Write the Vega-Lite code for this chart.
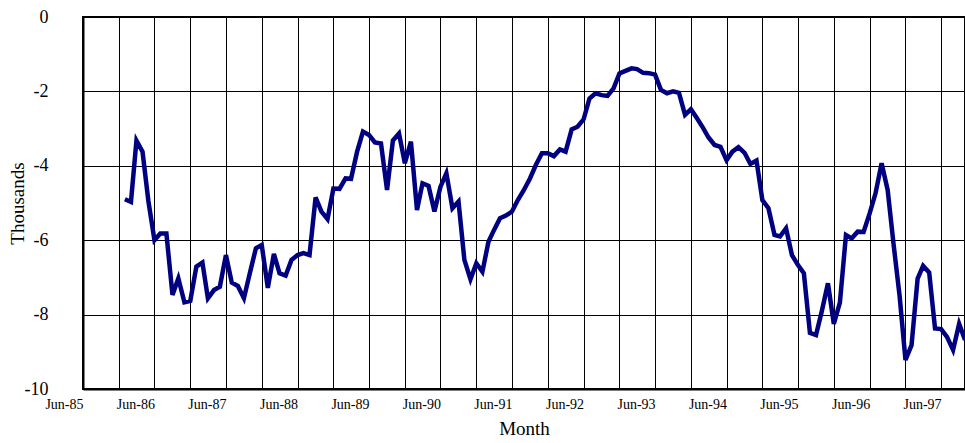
{
  "$schema": "https://vega.github.io/schema/vega-lite/v6.json",
  "autosize": {"type": "none"},
  "padding": {"left": 83, "top": 17, "right": 0, "bottom": 54},
  "width": 882,
  "height": 372,
  "background": "white",
  "config": {
    "view": {"stroke": "black", "strokeWidth": 2},
    "font": "Liberation Serif"
  },
  "data": {
    "values": [
      {"month": "1986/01/01", "value": -4.90}, {"month": "1986/02/01", "value": -4.97}, {"month": "1986/03/01", "value": -3.32}, {"month": "1986/04/01", "value": -3.62}, {"month": "1986/05/01", "value": -4.95}, {"month": "1986/06/01", "value": -6.00},
      {"month": "1986/07/01", "value": -5.82}, {"month": "1986/08/01", "value": -5.82}, {"month": "1986/09/01", "value": -7.47}, {"month": "1986/10/01", "value": -7.03}, {"month": "1986/11/01", "value": -7.67}, {"month": "1986/12/01", "value": -7.63},
      {"month": "1987/01/01", "value": -6.71}, {"month": "1987/02/01", "value": -6.60}, {"month": "1987/03/01", "value": -7.56}, {"month": "1987/04/01", "value": -7.34}, {"month": "1987/05/01", "value": -7.25}, {"month": "1987/06/01", "value": -6.40},
      {"month": "1987/07/01", "value": -7.14}, {"month": "1987/08/01", "value": -7.23}, {"month": "1987/09/01", "value": -7.56}, {"month": "1987/10/01", "value": -6.89}, {"month": "1987/11/01", "value": -6.22}, {"month": "1987/12/01", "value": -6.13},
      {"month": "1988/01/01", "value": -7.28}, {"month": "1988/02/01", "value": -6.37}, {"month": "1988/03/01", "value": -6.89}, {"month": "1988/04/01", "value": -6.95}, {"month": "1988/05/01", "value": -6.53}, {"month": "1988/06/01", "value": -6.40},
      {"month": "1988/07/01", "value": -6.35}, {"month": "1988/08/01", "value": -6.40}, {"month": "1988/09/01", "value": -4.85}, {"month": "1988/10/01", "value": -5.23}, {"month": "1988/11/01", "value": -5.43}, {"month": "1988/12/01", "value": -4.61},
      {"month": "1989/01/01", "value": -4.62}, {"month": "1989/02/01", "value": -4.34}, {"month": "1989/03/01", "value": -4.35}, {"month": "1989/04/01", "value": -3.62}, {"month": "1989/05/01", "value": -3.08}, {"month": "1989/06/01", "value": -3.17},
      {"month": "1989/07/01", "value": -3.37}, {"month": "1989/08/01", "value": -3.40}, {"month": "1989/09/01", "value": -4.65}, {"month": "1989/10/01", "value": -3.32}, {"month": "1989/11/01", "value": -3.13}, {"month": "1989/12/01", "value": -3.93},
      {"month": "1990/01/01", "value": -3.35}, {"month": "1990/02/01", "value": -5.19}, {"month": "1990/03/01", "value": -4.47}, {"month": "1990/04/01", "value": -4.54}, {"month": "1990/05/01", "value": -5.23}, {"month": "1990/06/01", "value": -4.56},
      {"month": "1990/07/01", "value": -4.20}, {"month": "1990/08/01", "value": -5.14}, {"month": "1990/09/01", "value": -4.96}, {"month": "1990/10/01", "value": -6.53}, {"month": "1990/11/01", "value": -7.05}, {"month": "1990/12/01", "value": -6.62},
      {"month": "1991/01/01", "value": -6.85}, {"month": "1991/02/01", "value": -6.04}, {"month": "1991/03/01", "value": -5.73}, {"month": "1991/04/01", "value": -5.41}, {"month": "1991/05/01", "value": -5.34}, {"month": "1991/06/01", "value": -5.23},
      {"month": "1991/07/01", "value": -4.92}, {"month": "1991/08/01", "value": -4.65}, {"month": "1991/09/01", "value": -4.34}, {"month": "1991/10/01", "value": -3.98}, {"month": "1991/11/01", "value": -3.66}, {"month": "1991/12/01", "value": -3.66},
      {"month": "1992/01/01", "value": -3.74}, {"month": "1992/02/01", "value": -3.56}, {"month": "1992/03/01", "value": -3.62}, {"month": "1992/04/01", "value": -3.02}, {"month": "1992/05/01", "value": -2.95}, {"month": "1992/06/01", "value": -2.75},
      {"month": "1992/07/01", "value": -2.19}, {"month": "1992/08/01", "value": -2.05}, {"month": "1992/09/01", "value": -2.10}, {"month": "1992/10/01", "value": -2.12}, {"month": "1992/11/01", "value": -1.92}, {"month": "1992/12/01", "value": -1.52},
      {"month": "1993/01/01", "value": -1.45}, {"month": "1993/02/01", "value": -1.38}, {"month": "1993/03/01", "value": -1.40}, {"month": "1993/04/01", "value": -1.50}, {"month": "1993/05/01", "value": -1.51}, {"month": "1993/06/01", "value": -1.55},
      {"month": "1993/07/01", "value": -1.96}, {"month": "1993/08/01", "value": -2.05}, {"month": "1993/09/01", "value": -2.00}, {"month": "1993/10/01", "value": -2.04}, {"month": "1993/11/01", "value": -2.63}, {"month": "1993/12/01", "value": -2.48},
      {"month": "1994/01/01", "value": -2.72}, {"month": "1994/02/01", "value": -2.98}, {"month": "1994/03/01", "value": -3.24}, {"month": "1994/04/01", "value": -3.44}, {"month": "1994/05/01", "value": -3.49}, {"month": "1994/06/01", "value": -3.85},
      {"month": "1994/07/01", "value": -3.62}, {"month": "1994/08/01", "value": -3.50}, {"month": "1994/09/01", "value": -3.65}, {"month": "1994/10/01", "value": -3.95}, {"month": "1994/11/01", "value": -3.86}, {"month": "1994/12/01", "value": -4.92},
      {"month": "1995/01/01", "value": -5.14}, {"month": "1995/02/01", "value": -5.86}, {"month": "1995/03/01", "value": -5.90}, {"month": "1995/04/01", "value": -5.68}, {"month": "1995/05/01", "value": -6.40}, {"month": "1995/06/01", "value": -6.67},
      {"month": "1995/07/01", "value": -6.89}, {"month": "1995/08/01", "value": -8.49}, {"month": "1995/09/01", "value": -8.55}, {"month": "1995/10/01", "value": -7.90}, {"month": "1995/11/01", "value": -7.16}, {"month": "1995/12/01", "value": -8.25},
      {"month": "1996/01/01", "value": -7.68}, {"month": "1996/02/01", "value": -5.86}, {"month": "1996/03/01", "value": -5.95}, {"month": "1996/04/01", "value": -5.77}, {"month": "1996/05/01", "value": -5.78}, {"month": "1996/06/01", "value": -5.28},
      {"month": "1996/07/01", "value": -4.74}, {"month": "1996/08/01", "value": -3.93}, {"month": "1996/09/01", "value": -4.65}, {"month": "1996/10/01", "value": -6.10}, {"month": "1996/11/01", "value": -7.50}, {"month": "1996/12/01", "value": -9.22},
      {"month": "1997/01/01", "value": -8.82}, {"month": "1997/02/01", "value": -7.03}, {"month": "1997/03/01", "value": -6.69}, {"month": "1997/04/01", "value": -6.87}, {"month": "1997/05/01", "value": -8.37}, {"month": "1997/06/01", "value": -8.39},
      {"month": "1997/07/01", "value": -8.60}, {"month": "1997/08/01", "value": -8.95}, {"month": "1997/09/01", "value": -8.25}, {"month": "1997/10/01", "value": -8.68}
    ]
  },
  "mark": {"type": "line", "color": "#000080", "strokeWidth": 4.5, "strokeJoin": "miter"},
  "encoding": {
    "x": {
      "field": "month",
      "type": "temporal",
      "scale": {"domain": [{"year": 1985, "month": 6, "date": 1}, {"year": 1997, "month": 10, "date": 1}]},
      "axis": {
        "title": "Month",
        "titleFont": "Liberation Serif",
        "titleFontSize": 19,
        "titleFontWeight": "normal",
        "titleColor": "black",
        "titlePadding": 8,
        "values": [
          {"year": 1985, "month": 6, "date": 1}, {"year": 1985, "month": 12, "date": 1},
          {"year": 1986, "month": 6, "date": 1}, {"year": 1986, "month": 12, "date": 1},
          {"year": 1987, "month": 6, "date": 1}, {"year": 1987, "month": 12, "date": 1},
          {"year": 1988, "month": 6, "date": 1}, {"year": 1988, "month": 12, "date": 1},
          {"year": 1989, "month": 6, "date": 1}, {"year": 1989, "month": 12, "date": 1},
          {"year": 1990, "month": 6, "date": 1}, {"year": 1990, "month": 12, "date": 1},
          {"year": 1991, "month": 6, "date": 1}, {"year": 1991, "month": 12, "date": 1},
          {"year": 1992, "month": 6, "date": 1}, {"year": 1992, "month": 12, "date": 1},
          {"year": 1993, "month": 6, "date": 1}, {"year": 1993, "month": 12, "date": 1},
          {"year": 1994, "month": 6, "date": 1}, {"year": 1994, "month": 12, "date": 1},
          {"year": 1995, "month": 6, "date": 1}, {"year": 1995, "month": 12, "date": 1},
          {"year": 1996, "month": 6, "date": 1}, {"year": 1996, "month": 12, "date": 1},
          {"year": 1997, "month": 6, "date": 1}
        ],
        "labelExpr": "month(datum.value) == 5 ? timeFormat(datum.value, '%b-%y') : ''",
        "labelFont": "Liberation Serif",
        "labelFontSize": 14,
        "labelColor": "black",
        "labelAlign": "right",
        "labelBaseline": "top",
        "labelDx": -9,
        "labelPadding": 8,
        "labelFlush": false,
        "labelOverlap": false,
        "labelBound": false,
        "ticks": false,
        "grid": true,
        "gridColor": "black",
        "gridWidth": 1,
        "gridOpacity": 1,
        "domainColor": "black",
        "domainWidth": 2
      }
    },
    "y": {
      "field": "value",
      "type": "quantitative",
      "scale": {"domain": [-10, 0], "nice": false, "zero": false},
      "axis": {
        "title": "Thousands",
        "titleFont": "Liberation Serif",
        "titleFontSize": 19,
        "titleFontWeight": "normal",
        "titleColor": "black",
        "titlePadding": -3,
        "values": [-10, -8, -6, -4, -2, 0],
        "labelExpr": "'' + datum.value",
        "labelFont": "Liberation Serif",
        "labelFontSize": 18,
        "labelColor": "black",
        "labelAlign": "right",
        "labelBaseline": "middle",
        "labelPadding": 35,
        "labelFlush": false,
        "labelOverlap": false,
        "labelBound": false,
        "ticks": false,
        "grid": true,
        "gridColor": "black",
        "gridWidth": 1,
        "gridOpacity": 1,
        "domainColor": "black",
        "domainWidth": 2
      }
    }
  }
}
